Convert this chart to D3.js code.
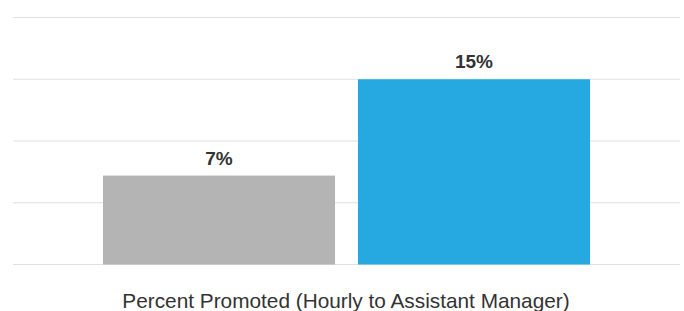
<!DOCTYPE html>
<html>
<head>
<meta charset="utf-8">
<script src="https://cdn.jsdelivr.net/npm/d3@7"></script>
<style>
  body { margin: 0; background: #fff; }
  svg { display: block; font-family: "Liberation Sans", Arial, sans-serif; }
</style>
</head>
<body>
<svg id="chart" width="684" height="311"></svg>
<script>
// chart data
const groups  = ["A", "B"];
const values  = [7.2, 15];
const labels  = ["7%", "15%"];
const colors  = ["#b4b4b4", "#25a9e0"];
const yTicks  = [0, 5, 10, 15, 20];
const xTitle  = "Percent Promoted (Hourly to Assistant Manager)";

const svg = d3.select("#chart");

const x = d3.scaleBand()
  .domain(groups)
  .range([13, 680])
  .paddingInner(0.09)
  .paddingOuter(0.353);

const y = d3.scaleLinear()
  .domain([0, 20])
  .range([264.5, 17.5]);

// gridlines
svg.append("g")
  .selectAll("line")
  .data(yTicks)
  .enter()
  .append("line")
  .attr("x1", 13)
  .attr("x2", 680)
  .attr("y1", d => y(d))
  .attr("y2", d => y(d))
  .attr("stroke", "#e0e0e0")
  .attr("stroke-width", 1);

// bars
svg.append("g")
  .selectAll("rect")
  .data(values)
  .enter()
  .append("rect")
  .attr("x", (d, i) => x(groups[i]))
  .attr("y", d => y(d))
  .attr("width", x.bandwidth())
  .attr("height", d => y(0) - y(d))
  .attr("fill", (d, i) => colors[i]);

// value labels
svg.append("g")
  .selectAll("text")
  .data(values)
  .enter()
  .append("text")
  .attr("x", (d, i) => x(groups[i]) + x.bandwidth() / 2)
  .attr("y", d => y(d) - 11)
  .attr("text-anchor", "middle")
  .attr("fill", "#333")
  .style("font-size", "19px")
  .style("font-weight", "bold")
  .text((d, i) => labels[i]);

// axis title
svg.append("text")
  .attr("x", 346)
  .attr("y", 307.5)
  .attr("text-anchor", "middle")
  .attr("fill", "#333")
  .style("font-size", "20.8px")
  .text(xTitle);
</script>
</body>
</html>
